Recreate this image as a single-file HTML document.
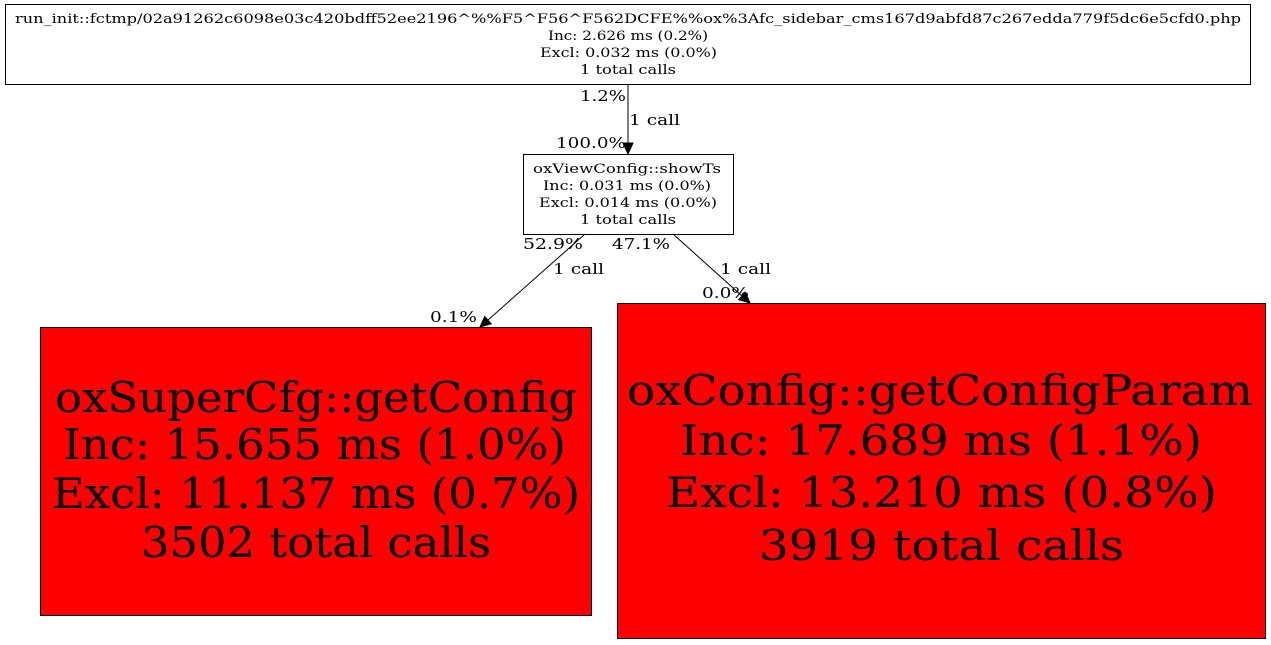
<!DOCTYPE html>
<html><head><style>html,body{margin:0;padding:0;background:#fff}svg{display:block}text{font-family:"DejaVu Serif","Liberation Serif",serif}</style></head><body>
<svg width="1271" height="645" viewBox="0 0 1271 645" xmlns="http://www.w3.org/2000/svg">
<rect x="0" y="0" width="1271" height="645" fill="#fff"/>
<rect x="5.5" y="4.5" width="1245" height="80" fill="#fff" stroke="#000"/>
<g font-size="13">
<text x="15" y="23" textLength="1226" lengthAdjust="spacingAndGlyphs">run_init::fctmp/02a91262c6098e03c420bdff52ee2196^%%F5^F56^F562DCFE%%ox%3Afc_sidebar_cms167d9abfd87c267edda779f5dc6e5cfd0.php</text>
<text x="548" y="40" textLength="160" lengthAdjust="spacingAndGlyphs">Inc: 2.626 ms (0.2%)</text>
<text x="540" y="57" textLength="177" lengthAdjust="spacingAndGlyphs">Excl: 0.032 ms (0.0%)</text>
<text x="580" y="74" textLength="96" lengthAdjust="spacingAndGlyphs">1 total calls</text>
</g>
<rect x="523.5" y="154.5" width="210" height="80" fill="#fff" stroke="#000"/>
<g font-size="13">
<text x="533" y="173" textLength="188" lengthAdjust="spacingAndGlyphs">oxViewConfig::showTs</text>
<text x="543" y="190" textLength="168" lengthAdjust="spacingAndGlyphs">Inc: 0.031 ms (0.0%)</text>
<text x="539" y="207" textLength="178" lengthAdjust="spacingAndGlyphs">Excl: 0.014 ms (0.0%)</text>
<text x="580" y="224" textLength="96" lengthAdjust="spacingAndGlyphs">1 total calls</text>
</g>
<rect x="40.5" y="327.5" width="551" height="288" fill="#ff0000" stroke="#000"/>
<g font-size="42">
<text x="55" y="412" textLength="522" lengthAdjust="spacingAndGlyphs">oxSuperCfg::getConfig</text>
<text x="63" y="459" textLength="503" lengthAdjust="spacingAndGlyphs">Inc: 15.655 ms (1.0%)</text>
<text x="52" y="508" textLength="528" lengthAdjust="spacingAndGlyphs">Excl: 11.137 ms (0.7%)</text>
<text x="141" y="557" textLength="350" lengthAdjust="spacingAndGlyphs">3502 total calls</text>
</g>
<rect x="617.5" y="303.5" width="648" height="335" fill="#ff0000" stroke="#000"/>
<g font-size="42">
<text x="627" y="405" textLength="626" lengthAdjust="spacingAndGlyphs">oxConfig::getConfigParam</text>
<text x="680" y="455" textLength="522" lengthAdjust="spacingAndGlyphs">Inc: 17.689 ms (1.1%)</text>
<text x="666" y="507" textLength="551" lengthAdjust="spacingAndGlyphs">Excl: 13.210 ms (0.8%)</text>
<text x="759" y="560" textLength="365" lengthAdjust="spacingAndGlyphs">3919 total calls</text>
</g>
<g stroke="#000" fill="none">
<line x1="628" y1="85" x2="628" y2="143"/>
<line x1="585" y1="234" x2="488" y2="320"/>
<line x1="673" y1="234" x2="742" y2="296"/>
</g>
<g fill="#000" stroke="#000">
<polygon points="623,143 633,143 628,154"/>
<polygon points="484.7,316.5 491.3,323.9 480,327"/>
<polygon points="738.7,299.7 745.3,292.3 750,303"/>
</g>
<g font-size="15">
<text x="580" y="101" textLength="46" lengthAdjust="spacingAndGlyphs">1.2%</text>
<text x="629" y="125" textLength="51" lengthAdjust="spacingAndGlyphs">1 call</text>
<text x="556" y="148" textLength="70" lengthAdjust="spacingAndGlyphs">100.0%</text>
<text x="523" y="249" textLength="60" lengthAdjust="spacingAndGlyphs">52.9%</text>
<text x="553" y="274" textLength="51" lengthAdjust="spacingAndGlyphs">1 call</text>
<text x="430" y="322" textLength="47" lengthAdjust="spacingAndGlyphs">0.1%</text>
<text x="612" y="249" textLength="58" lengthAdjust="spacingAndGlyphs">47.1%</text>
<text x="720" y="274" textLength="51" lengthAdjust="spacingAndGlyphs">1 call</text>
<text x="702" y="298" textLength="47" lengthAdjust="spacingAndGlyphs">0.0%</text>
</g>
</svg>
</body></html>
